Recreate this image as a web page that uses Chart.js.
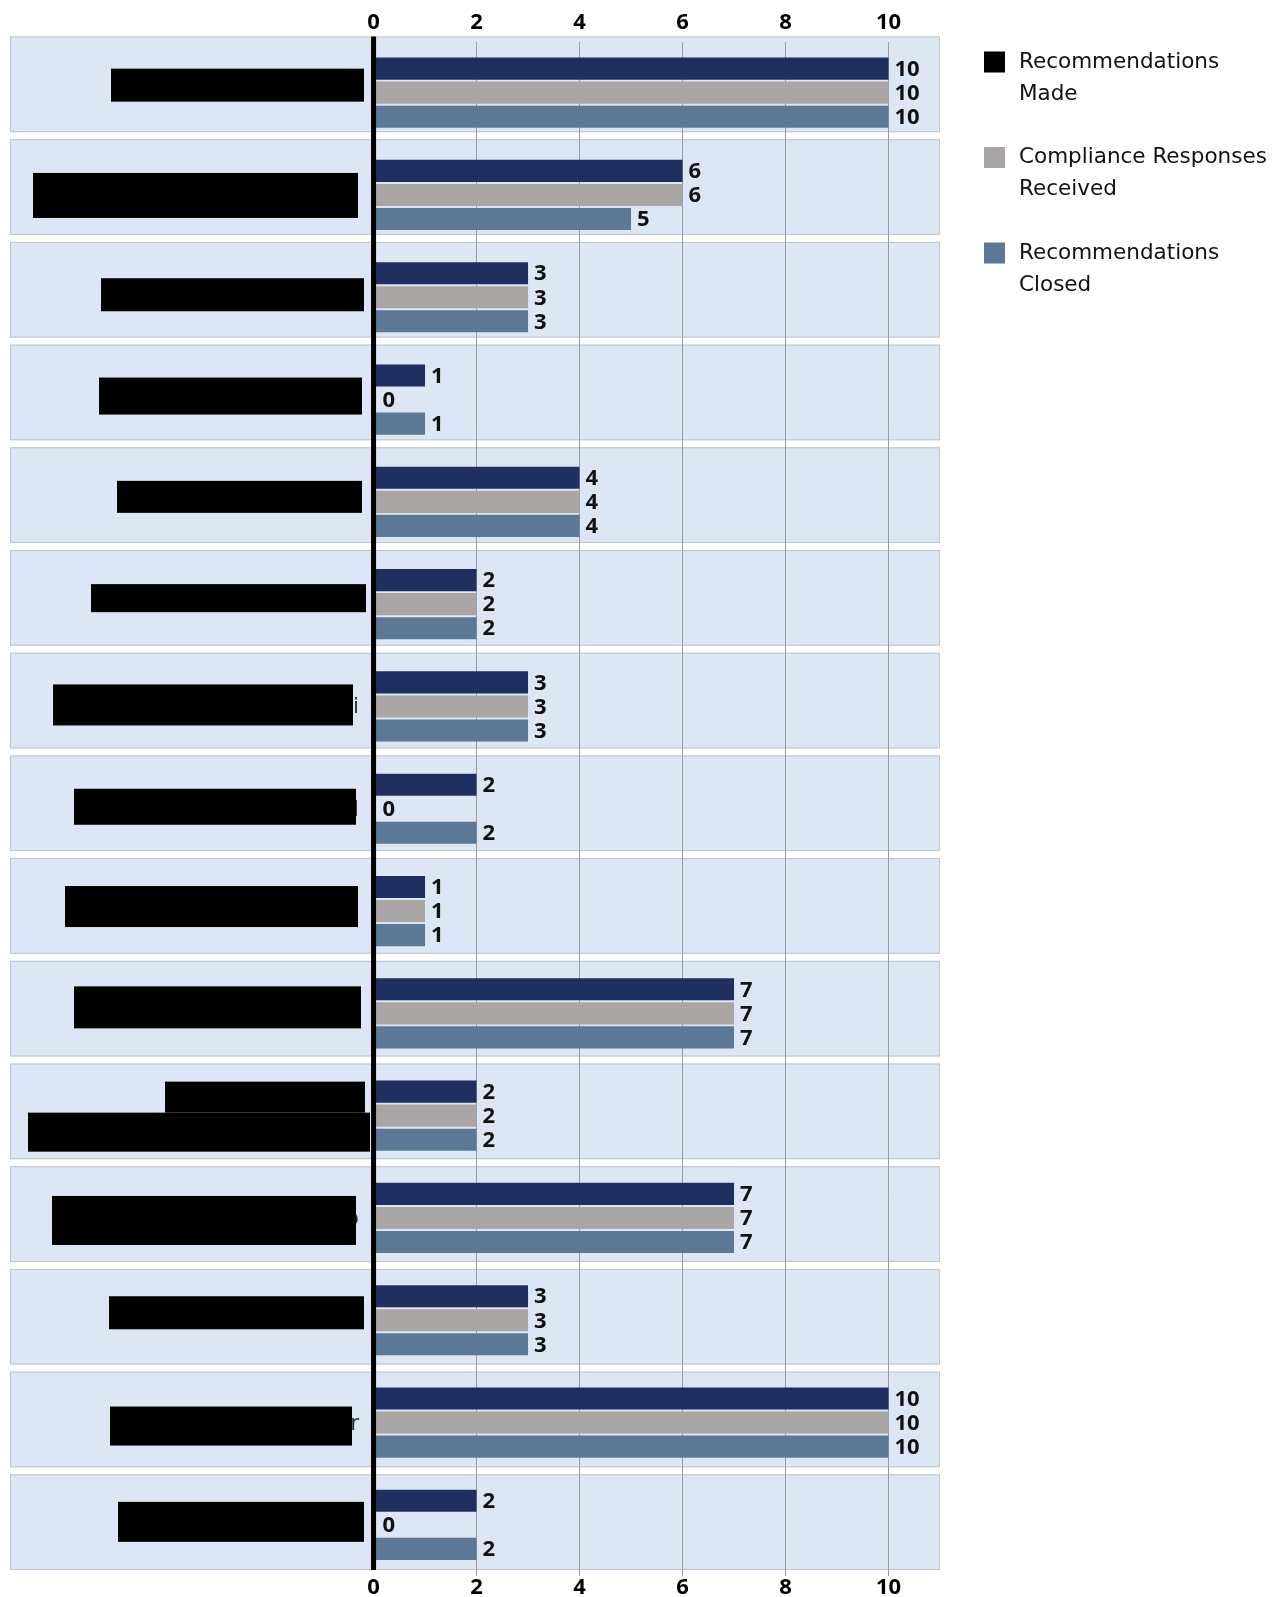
<!DOCTYPE html>
<html>
<head>
<meta charset="utf-8">
<script src="https://cdn.jsdelivr.net/npm/chart.js@4/dist/chart.umd.min.js"></script>
<style>
  html, body { margin: 0; padding: 0; background: #ffffff; }
  canvas { display: block; }
</style>
</head>
<body>
<canvas id="chart" width="1283" height="1597"></canvas>
<script>
// Category labels are redacted; only the trailing characters that escape the bars remain.
const categories = ['', '', '', '', '', '', 'i', 'd', '', '', '', 'o', '', 'r', ''];

const seriesNames = ['Recommendations Made', 'Compliance Responses Received', 'Recommendations Closed'];
const legendLines = [['Recommendations', 'Made'], ['Compliance Responses', 'Received'], ['Recommendations', 'Closed']];

const recommendationsMade   = [10, 6, 3, 1, 4, 2, 3, 2, 1, 7, 2, 7, 3, 10, 2];
const complianceResponses   = [10, 6, 3, 0, 4, 2, 3, 0, 1, 7, 2, 7, 3, 10, 0];
const recommendationsClosed = [10, 5, 3, 1, 4, 2, 3, 2, 1, 7, 2, 7, 3, 10, 2];

const xTicks = [0, 2, 4, 6, 8, 10];

// Styling
const barColors    = ['#1F3060', '#ABA6A6', '#5C7894'];
const legendColors = ['#000000', '#ABA6A6', '#5C7894'];
const numberFont = { family: "'Open Sans', 'Noto Sans', sans-serif", size: 22, weight: 'bold' };
const legendFont = "21.5px 'DejaVu Sans', sans-serif";

// Black redaction bars over each category label: [left, right, top, bottom],
// vertical values are offsets from the category centre.
const redactions = [
  [[111, 364, -24, 9]],
  [[33, 358, -22, 23]],
  [[101, 364, -19, 14]],
  [[99, 362, -22, 15]],
  [[117, 362, -21, 11]],
  [[91, 366, -20, 8]],
  [[53, 353, -22, 19]],
  [[74, 356, -20, 16]],
  [[65, 358, -25, 16]],
  [[74, 361, -27, 15]],
  [[165, 365, -34, -3], [28, 370, -3, 36]],
  [[52, 356, -22, 27]],
  [[109, 364, -24, 9]],
  [[110, 352, -16, 23]],
  [[118, 364, -23, 17]]
];

// Light blue row panels behind every category
const panelPlugin = {
  id: 'panels',
  beforeDraw(chart) {
    const { ctx, chartArea } = chart;
    const n = categories.length;
    const top = chartArea.top - 5, bottom = chartArea.bottom - 6, gap = 7;
    const pitch = (bottom - top + gap) / n;
    ctx.save();
    for (let i = 0; i < n; i++) {
      const y0 = top + i * pitch;
      ctx.fillStyle = '#DCE6F4';
      ctx.fillRect(chartArea.left, y0, chartArea.right - chartArea.left, pitch - gap);
      ctx.strokeStyle = '#BEC4CE';
      ctx.lineWidth = 1;
      ctx.strokeRect(chartArea.left + 0.5, y0 + 0.5, chartArea.right - chartArea.left - 1, pitch - gap - 1);
    }
    ctx.restore();
  }
};

// Value labels, label remnants, redaction bars and the zero axis line
const overlayPlugin = {
  id: 'overlay',
  afterDatasetsDraw(chart) {
    const { ctx, chartArea } = chart;
    const xs = chart.scales.x, ys = chart.scales.y;
    ctx.save();

    ctx.font = `${numberFont.weight} ${numberFont.size}px ${numberFont.family}`;
    ctx.fillStyle = '#111111';
    ctx.textAlign = 'left';
    ctx.textBaseline = 'middle';
    chart.data.datasets.forEach((ds, di) => {
      const meta = chart.getDatasetMeta(di);
      meta.data.forEach((bar, i) => {
        const v = ds.data[i];
        const x = v === 0 ? xs.getPixelForValue(0) + 9 : bar.x + 6;
        ctx.fillText(String(v), x, bar.y + 1);
      });
    });

    ctx.font = legendFont;
    ctx.fillStyle = '#333333';
    ctx.textAlign = 'right';
    ctx.textBaseline = 'alphabetic';
    categories.forEach((label, i) => {
      if (label) ctx.fillText(label, 359, ys.getPixelForValue(i) + 7);
    });

    ctx.fillStyle = '#000000';
    redactions.forEach((rects, i) => {
      const yc = ys.getPixelForValue(i);
      rects.forEach(([x0, x1, t, b]) => ctx.fillRect(x0, yc + t, x1 - x0, b - t));
    });

    ctx.strokeStyle = '#000000';
    ctx.lineWidth = 5;
    const zx = xs.getPixelForValue(0);
    ctx.beginPath();
    ctx.moveTo(zx, chartArea.top - 5);
    ctx.lineTo(zx, chartArea.bottom - 6);
    ctx.stroke();
    ctx.restore();
  }
};

// Legend on the right with two-line entries
const legendPlugin = {
  id: 'sideLegend',
  afterDraw(chart) {
    const { ctx, chartArea } = chart;
    const x = chartArea.right + 44;
    ctx.save();
    ctx.font = legendFont;
    ctx.textAlign = 'left';
    ctx.textBaseline = 'alphabetic';
    legendLines.forEach((lines, k) => {
      const top = chartArea.top + 10 + k * 95.5;
      ctx.fillStyle = legendColors[k];
      ctx.fillRect(x, top, 21, 21);
      ctx.fillStyle = '#111111';
      lines.forEach((line, j) => ctx.fillText(line, x + 35, top + 16 + j * 32));
    });
    ctx.restore();
  }
};

const xRange = { min: -7.06, max: 11 };

new Chart(document.getElementById('chart'), {
  type: 'bar',
  data: {
    labels: categories,
    datasets: [
      { label: seriesNames[0], data: recommendationsMade, backgroundColor: barColors[0] },
      { label: seriesNames[1], data: complianceResponses, backgroundColor: barColors[1] },
      { label: seriesNames[2], data: recommendationsClosed, backgroundColor: barColors[2] }
    ].map(d => Object.assign(d, {
      xAxisID: 'x', yAxisID: 'y',
      categoryPercentage: 0.705, barPercentage: 0.92, borderWidth: 0
    }))
  },
  options: {
    indexAxis: 'y',
    responsive: false,
    animation: false,
    devicePixelRatio: 1,
    layout: { padding: { left: 10, right: 343, top: 0, bottom: 0 } },
    plugins: { legend: { display: false }, tooltip: { enabled: false } },
    scales: {
      x: {
        type: 'linear', position: 'top', min: xRange.min, max: xRange.max,
        afterBuildTicks: s => { s.ticks = xTicks.map(v => ({ value: v })); },
        afterFit: s => { s.height = 41.5; },
        ticks: { font: numberFont, color: '#000000', padding: 6, maxRotation: 0 },
        grid: {
          drawTicks: false, lineWidth: 1,
          color: c => (c.tick && c.tick.value === 0) ? 'rgba(0,0,0,0)' : '#959CA7'
        },
        border: { display: false }
      },
      x2: {
        type: 'linear', position: 'bottom', min: xRange.min, max: xRange.max,
        afterBuildTicks: s => { s.ticks = xTicks.map(v => ({ value: v })); },
        afterFit: s => { s.height = 21; },
        ticks: { font: numberFont, color: '#000000', padding: -1, maxRotation: 0 },
        grid: { display: false, drawTicks: false },
        border: { display: false }
      },
      y: { type: 'category', display: false, offset: true }
    }
  },
  plugins: [panelPlugin, overlayPlugin, legendPlugin]
});
</script>
</body>
</html>
